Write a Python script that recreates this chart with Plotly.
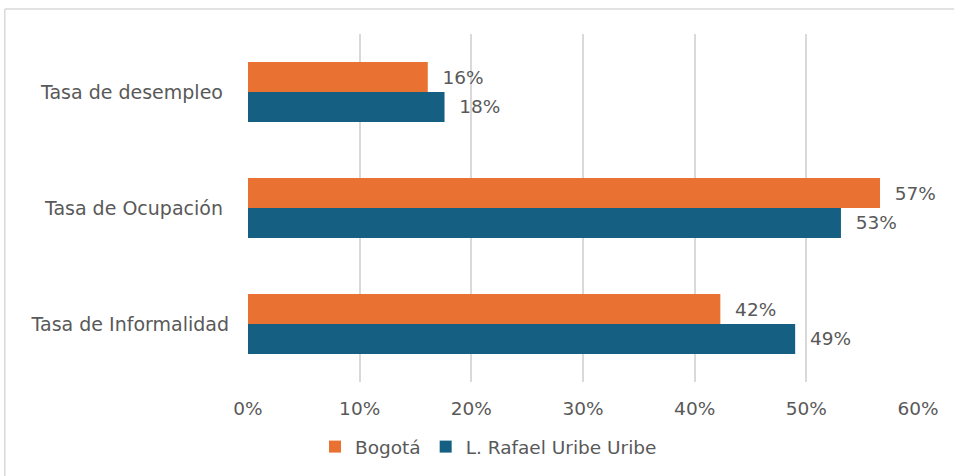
import plotly.graph_objects as go

# Data
categories = ["Tasa de desempleo", "Tasa de Ocupación", "Tasa de Informalidad"]
tick_labels = ["Tasa de desempleo\u00a0", "Tasa de Ocupación\u00a0", "Tasa de Informalidad"]
bogota = [0.161, 0.566, 0.423]
rafael_uribe = [0.176, 0.531, 0.490]
series_names = ["Bogotá", "L. Rafael Uribe Uribe"]
x_ticks = [0, 0.1, 0.2, 0.3, 0.4, 0.5, 0.6]

ORANGE = "#E97132"
BLUE = "#156082"
TEXT = "#595959"
GRID = "#D9D9D9"
FONT = "DejaVu Sans"

fig = go.Figure()

for name, values, color in [(series_names[0], bogota, ORANGE),
                            (series_names[1], rafael_uribe, BLUE)]:
    fig.add_trace(go.Bar(
        y=categories, x=values, name=name, orientation="h",
        marker=dict(color=color, line=dict(width=0)),
        texttemplate="\u00a0\u00a0%{x:.0%}", textposition="outside",
        textfont=dict(family=FONT, size=18.5, color=TEXT),
        constraintext="none", cliponaxis=False,
    ))

# light border of the chart area: only top and left edges are visible
fig.add_shape(type="line", xref="paper", yref="paper",
              x0=-0.363, x1=1.2, y0=1.072, y1=1.072,
              line=dict(color=GRID, width=1.5), layer="below")
fig.add_shape(type="line", xref="paper", yref="paper",
              x0=-0.363, x1=-0.363, y0=-0.5, y1=1.072,
              line=dict(color=GRID, width=1.5), layer="below")

fig.update_layout(
    width=954, height=476,
    margin=dict(l=247.5, r=36, t=34, b=94, autoexpand=False),
    paper_bgcolor="white", plot_bgcolor="white",
    barmode="group", bargap=0.483, bargroupgap=0,
    font=dict(family=FONT, size=18.5, color=TEXT),
    xaxis=dict(range=[0, 0.6], tickvals=x_ticks, tickformat=".0%",
               showgrid=True, gridcolor=GRID, gridwidth=1.5,
               zeroline=False, showline=False, ticks="",
               ticklabelstandoff=13, automargin=False,
               tickfont=dict(family=FONT, size=18.5, color=TEXT)),
    yaxis=dict(categoryorder="array", categoryarray=categories,
               tickvals=categories, ticktext=tick_labels,
               autorange="reversed", showgrid=False, zeroline=False,
               showline=False, ticks="", ticklabelstandoff=18,
               automargin=False,
               tickfont=dict(family=FONT, size=19, color=TEXT)),
    legend=dict(orientation="h", x=0.1, xanchor="left", y=-0.187,
                yanchor="middle", font=dict(family=FONT, size=18.5, color=TEXT),
                itemwidth=30, bgcolor="rgba(0,0,0,0)"),
)

fig.write_html("out.html", config={"displayModeBar": False},
               post_script="document.body.style.margin='0';"
                           "document.body.style.overflow='hidden';")
